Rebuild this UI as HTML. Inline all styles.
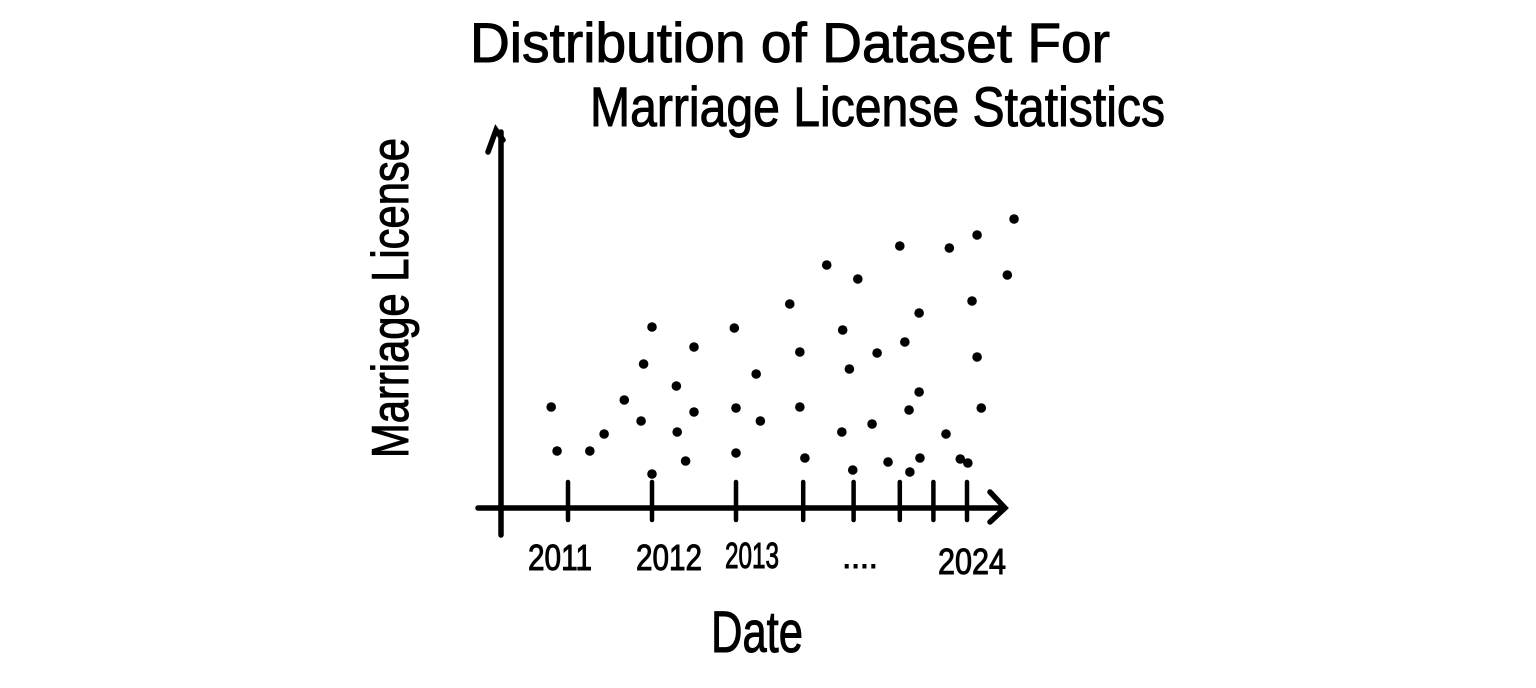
<!DOCTYPE html>
<html><head><meta charset="utf-8"><style>
html,body{margin:0;padding:0;background:#fff;width:1536px;height:688px;overflow:hidden}
svg{display:block}
text{font-family:"Liberation Sans",sans-serif;fill:#000;stroke:#000;stroke-width:1}
</style></head><body>
<svg id="chart" width="1536" height="688" viewBox="0 0 1536 688">
<text x="470" y="62" font-size="56" textLength="640" lengthAdjust="spacingAndGlyphs">Distribution of Dataset For</text>
<text x="590" y="126" font-size="56" textLength="575" lengthAdjust="spacingAndGlyphs">Marriage License Statistics</text>
<g stroke="#000" stroke-width="5.5" fill="none" stroke-linecap="round">
<line x1="501" y1="132" x2="501" y2="535"/>
<polyline points="488,152 496,130 503,140"/>
</g>
<g stroke="#000" stroke-width="5.5" fill="none" stroke-linecap="round">
<line x1="478" y1="508" x2="1002" y2="508"/>
<polyline points="990,492 1005,508 990,522"/>
</g>
<g id="ticks" stroke="#000" stroke-width="4.5" stroke-linecap="round"></g>
<text x="560" y="570" font-size="36" text-anchor="middle" textLength="64" lengthAdjust="spacingAndGlyphs">2011</text>
<text x="669" y="570" font-size="36" text-anchor="middle" textLength="66" lengthAdjust="spacingAndGlyphs">2012</text>
<text x="752" y="568" font-size="36" text-anchor="middle" textLength="54" lengthAdjust="spacingAndGlyphs">2013</text>
<text x="860" y="568" font-size="32" text-anchor="middle">....</text>
<text x="972" y="574" font-size="36" text-anchor="middle" textLength="68" lengthAdjust="spacingAndGlyphs">2024</text>
<text x="757" y="652" font-size="58" text-anchor="middle" textLength="92" lengthAdjust="spacingAndGlyphs">Date</text>
<text transform="translate(408,298) rotate(-90)" font-size="52" text-anchor="middle" textLength="320" lengthAdjust="spacingAndGlyphs">Marriage License</text>
<g id="dots"></g>
</svg>
<script>
const tickYears=[2011,2012,2013,2013.8,2014.4,2014.95,2015.35,2015.75];
const dates=[2010.80,2010.87,2011.26,2011.43,2011.67,2011.87,2012.0,2011.90,2012.0,2012.29,2012.30,2012.50,2012.50,2012.40,2012.98,2013.0,2013.0,2013.24,2013.29,2013.64,2013.76,2013.76,2013.82,2014.08,2014.27,2014.35,2014.26,2014.39,2014.45,2014.68,2014.62,2014.81,2014.95,2015.18,2015.01,2015.18,2015.06,2015.19,2015.07,2015.54,2015.50,2015.67,2015.76,2015.81,2015.87,2015.92,2015.87,2016.23,2016.31];
const licenses=[101,57,57,74,108,87,181,144,34,122,76,161,96,47,180,100,55,134,87,204,156,101,50,243,178,139,76,38,229,155,84,46,262,195,166,116,98,50,36,260,74,49,45,207,151,100,273,233,289];
const NS='http://www.w3.org/2000/svg';
function xScale(v){return 568+(v-2011)*84;}
function yScale(v){return 508-v;}
const tg=document.getElementById('ticks');
tickYears.forEach((t,i)=>{
 const l=document.createElementNS(NS,'line');
 
 
 const x=xScale(t);
 l.setAttribute('x1',x);l.setAttribute('x2',x);
 l.setAttribute('y1',482);l.setAttribute('y2',520);
 tg.appendChild(l);
});
const dg=document.getElementById('dots');
dates.forEach((d,i)=>{
 const c=document.createElementNS(NS,'circle');
 
 
 c.setAttribute('cx',xScale(d));
 c.setAttribute('cy',yScale(licenses[i]));
 c.setAttribute('r',4.8);
 c.setAttribute('fill','#000');
 dg.appendChild(c);
});
</script>
</body></html>
